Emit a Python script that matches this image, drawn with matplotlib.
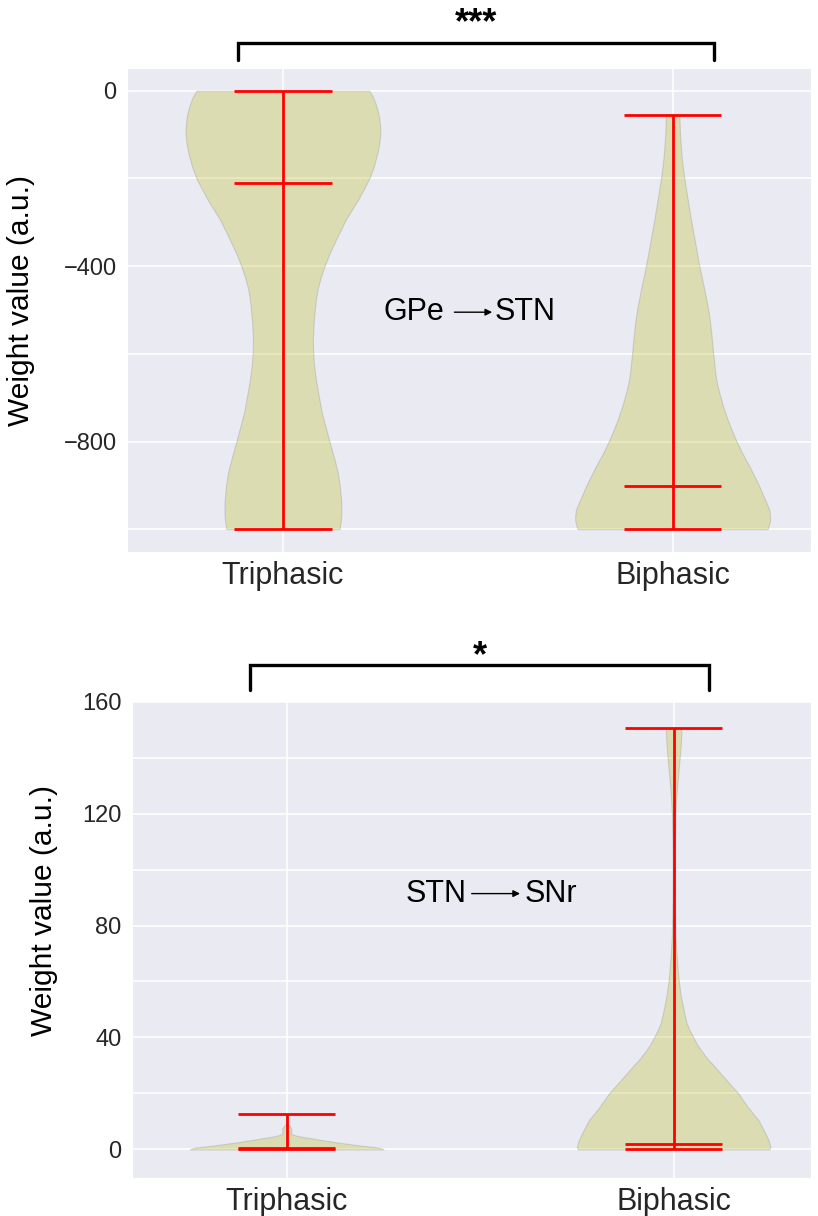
import matplotlib
matplotlib.use("Agg")
import matplotlib.pyplot as plt
from matplotlib.lines import Line2D
import seaborn as sns

sns.set_style("darkgrid")
plt.rcParams["font.family"] = ["Liberation Sans", "DejaVu Sans"]

groups = ["Triphasic", "Biphasic"]

# GPe -> STN, density outline (value, half width)
gpe_tri_y = [0, -15, -30, -45, -60, -78, -96, -118, -140, -170, -200, -225,
             -250, -272, -294, -322, -350, -375, -400, -425, -450, -470, -491,
             -530, -567, -595, -620, -640, -658, -695, -734, -767, -800, -835,
             -870, -900, -932, -950, -970, -985, -1000]
gpe_tri_w = [86.7, 90.5, 93, 95, 96.5, 97.3, 97.7, 96.8, 95, 91.5, 86.7, 81,
             75, 69, 63, 57, 51, 46, 41.7, 38, 35, 33.5, 32.3,
             30.8, 30, 30.3, 31, 32, 33, 35.8, 39, 42.8, 46.7, 51,
             55, 57, 58.3, 58.6, 58.5, 57.8, 56.7]
gpe_bi_y = [-55, -75, -96, -120, -150, -175, -200, -245, -294, -345, -400,
            -445, -491, -520, -550, -575, -602, -625, -650, -670, -689, -720,
            -750, -775, -800, -828, -856, -880, -902, -930, -955, -970, -980,
            -990, -1000]
gpe_bi_w = [6.7, 7, 7.3, 8, 9, 10.2, 11.7, 14.8, 18.3, 22.4, 26.7,
            31, 35, 37, 38.5, 39.6, 40.7, 41.8, 43, 44.6, 46.7, 50.5,
            55, 59.3, 64, 70, 76.7, 82, 86.7, 92, 96.7, 97.5, 97.5,
            96.5, 95]
gpe_min = [-1000, -1000]
gpe_max = [0, -55]
gpe_med = [-211, -901]

# STN -> SNr
stn_tri_y = [0, 0.3, 0.6, 0.9, 1.2, 1.6, 2.1, 2.5, 3.0, 3.4, 3.9, 4.3, 4.6,
             4.9, 5.2, 5.5, 5.7, 6.1, 6.5, 6.9, 7.3, 7.7, 8.0, 8.3, 8.6, 8.9,
             9.2, 9.8, 10.5, 11.6, 12.8]
stn_tri_w = [96.7, 95, 92, 86, 78, 69, 59, 50, 42, 34, 26, 19, 14,
             10, 7, 5.3, 4.5, 4.3, 4.4, 4.6, 4.6, 4.3, 3.7, 3.0, 2.2, 1.5,
             0.8, 0.5, 0.3, 0.25, 0.2]
stn_bi_y = [0, 0.9, 3, 5, 7.5, 10.4, 12.5, 15, 17.5, 20, 22.5, 25, 27.2,
            29.5, 32, 35, 37.5, 40.2, 42.5, 45, 48, 50.9, 55, 60.4, 65,
            70, 77, 84, 90, 100.8, 110, 119.8, 125, 130, 135, 140, 143,
            146, 148.5, 150.5]
stn_bi_w = [95, 96, 94.5, 92, 88.5, 84.3, 79.5, 74, 69, 64.3, 58, 52, 46.5,
            41, 34.5, 28, 23.3, 19.3, 16, 13, 11, 9.3, 7, 5, 3.8,
            2.8, 1.7, 1.3, 1.1, 1, 1.2, 1.7, 2.5, 3.5, 4.8, 6, 6.7,
            7.3, 7.6, 7.7]
stn_min = [0, 0]
stn_max = [12.8, 150.5]
stn_med = [0.6, 2.1]


def stats(ys, ws, lo, hi, med):
    return dict(coords=ys, vals=ws, min=lo, max=hi, median=med, mean=med)


def draw(ax, vp, ylim, major, minor, label_text, lx, ly, lab_xy):
    parts = ax.violin(vp, positions=[1, 2], widths=0.5,
                      showmedians=True, showextrema=True)
    for b in parts["bodies"]:
        b.set_facecolor((0.737, 0.741, 0.133, 0.35))
        b.set_edgecolor((0.55, 0.55, 0.55, 0.5))
        b.set_linewidth(0.8)
    for k in ["cmaxes", "cmins", "cbars", "cmedians"]:
        parts[k].set_color("red")
        parts[k].set_linewidth(2)
    ax.set_ylim(*ylim)
    ax.set_xlim(0.6, 2.355)
    ax.set_yticks(major)
    ax.set_yticks(minor, minor=True)
    ax.set_xticks([1, 2])
    ax.set_xticklabels(groups, fontsize=22)
    ax.tick_params(axis="y", labelsize=17, pad=4)
    ax.tick_params(axis="x", pad=3)
    ax.grid(True, which="both", color="white", linewidth=1.1)
    ax.set_axisbelow(True)
    ax.set_ylabel("Weight value (a.u.)", fontsize=21.5, color="black")
    ax.yaxis.set_label_coords(*lab_xy)
    ax.text(lx[0], ly, label_text[0], fontsize=22, ha="right", va="center",
            color="black")
    ax.annotate("", xy=(lx[2], ly), xytext=(lx[1], ly),
                arrowprops=dict(arrowstyle="-|>", color="black", lw=1,
                                mutation_scale=10, shrinkA=0, shrinkB=0))
    ax.text(lx[3], ly, label_text[1], fontsize=22, ha="left", va="center",
            color="black")


fig = plt.figure(figsize=(8.18, 12.16), dpi=100)
W, H = 818.0, 1216.0
ax1 = fig.add_axes([127 / W, 1 - 552 / H, (811 - 127) / W, (552 - 68) / H])
ax2 = fig.add_axes([132 / W, 1 - 1178 / H, (811 - 132) / W, (1178 - 701) / H])

draw(ax1,
     [stats(gpe_tri_y, gpe_tri_w, gpe_min[0], gpe_max[0], gpe_med[0]),
      stats(gpe_bi_y, gpe_bi_w, gpe_min[1], gpe_max[1], gpe_med[1])],
     (-1052, 52), [0, -400, -800], [-200, -600, -1000],
     ["GPe", "STN"], [1.414, 1.44, 1.537, 1.542], -505, (-0.135, 0.52))
draw(ax2,
     [stats(stn_tri_y, stn_tri_w, stn_min[0], stn_max[0], stn_med[0]),
      stats(stn_bi_y, stn_bi_w, stn_min[1], stn_max[1], stn_med[1])],
     (-10.2, 160.2), [0, 40, 80, 120, 160], [20, 60, 100, 140],
     ["STN", "SNr"], [1.465, 1.478, 1.603, 1.616], 91.4, (-0.109, 0.56))


def bracket(x0, x1, ytop, ybot, stars, ystar):
    xs = [x0 / W, x0 / W, x1 / W, x1 / W]
    ys = [1 - ybot / H, 1 - ytop / H, 1 - ytop / H, 1 - ybot / H]
    fig.add_artist(Line2D(xs, ys, color="black", lw=2.4,
                          solid_joinstyle="miter"))
    fig.text((x0 + x1) / 2 / W, 1 - ystar / H, stars, fontsize=26,
             fontweight="bold", ha="center", va="center", color="black")


bracket(238.4, 713.6, 43.3, 60, "***", 24)
bracket(250.4, 709.4, 665.3, 690, "*", 657)

fig.savefig("out.png", dpi=100)
